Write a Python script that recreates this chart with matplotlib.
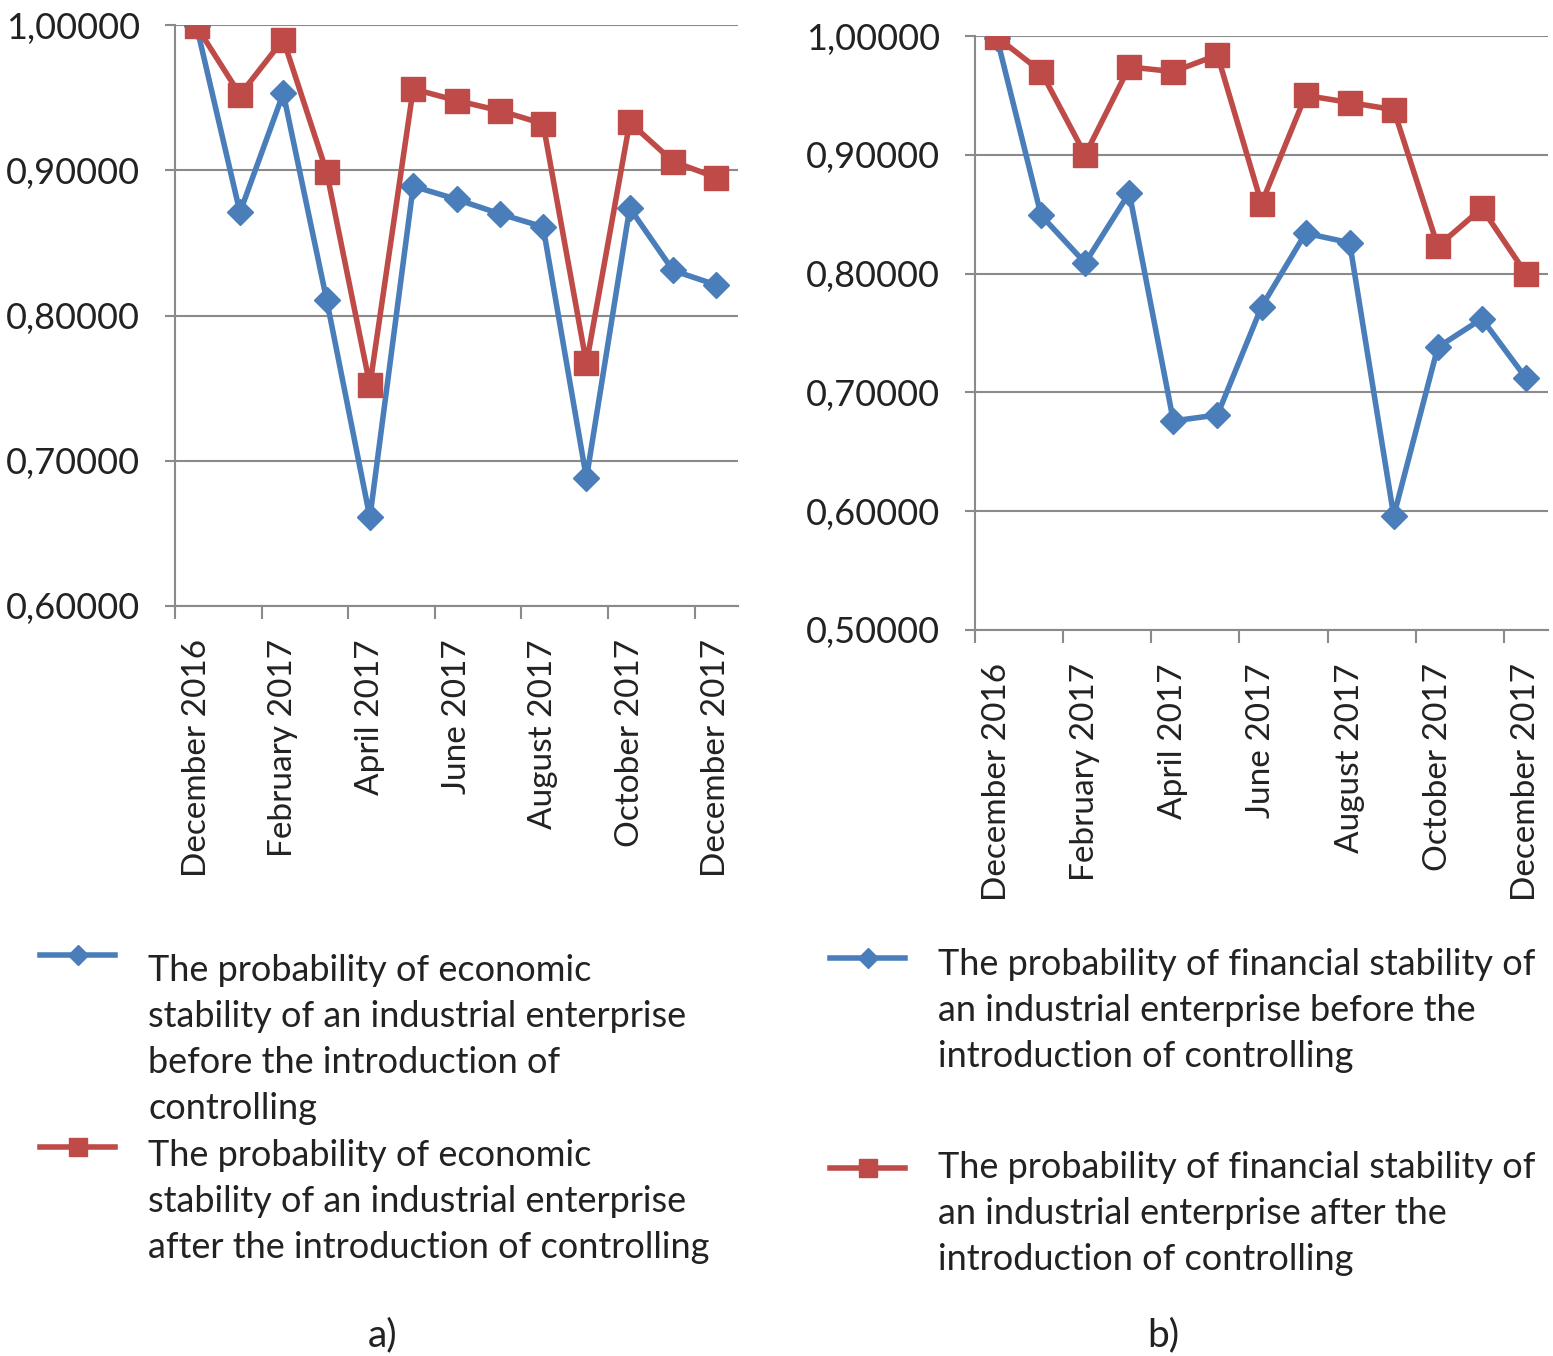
import numpy as np
import matplotlib
matplotlib.use("Agg")
import matplotlib.pyplot as plt
from matplotlib.lines import Line2D
from matplotlib.ticker import FuncFormatter

plt.rcParams['font.family'] = ['Lato', 'DejaVu Sans']

months = ["December 2016", "January 2017", "February 2017", "March 2017", "April 2017",
          "May 2017", "June 2017", "July 2017", "August 2017", "September 2017",
          "October 2017", "November 2017", "December 2017"]

# panel a) economic stability
econ_before = [0.999, 0.871, 0.953, 0.811, 0.661, 0.889, 0.880, 0.870, 0.861, 0.688, 0.874, 0.831, 0.821]
econ_after = [0.999, 0.952, 0.990, 0.899, 0.752, 0.956, 0.948, 0.941, 0.932, 0.767, 0.933, 0.906, 0.895]

# panel b) financial stability
fin_before = [0.998, 0.849, 0.809, 0.868, 0.676, 0.681, 0.772, 0.834, 0.826, 0.596, 0.738, 0.762, 0.712]
fin_after = [0.999, 0.970, 0.900, 0.974, 0.970, 0.984, 0.859, 0.950, 0.944, 0.938, 0.823, 0.855, 0.800]

labels_a = ["The probability of economic\nstability of an industrial enterprise\nbefore the introduction of\ncontrolling",
            "The probability of economic\nstability of an industrial enterprise\nafter the introduction of controlling"]
labels_b = ["The probability of financial stability of\nan industrial enterprise before the\nintroduction of controlling",
            "The probability of financial stability of\nan industrial enterprise after the\nintroduction of controlling"]

BLUE = "#4a7ebb"
RED = "#be4b48"
GRID = "#8a8a8a"
TXT = "#222222"

W, H = 1553, 1356
fig = plt.figure(figsize=(W / 100, H / 100), dpi=100)


def px_axes(l, t, r, b):
    return fig.add_axes([l / W, 1 - b / H, (r - l) / W, (b - t) / H])


def draw_panel(ax, before, after, ymin):
    x = np.arange(len(months))
    ax.plot(x, before, color=BLUE, lw=4, marker="D", ms=13, zorder=3)
    ax.plot(x, after, color=RED, lw=4, marker="s", ms=17, zorder=3)
    ax.set_xlim(-0.5, len(months) - 0.5)
    ax.set_ylim(ymin, 1.0)
    ax.set_yticks(np.arange(ymin, 1.0001, 0.1))
    ax.yaxis.set_major_formatter(FuncFormatter(lambda v, p: f"{v:.5f}".replace(".", ",")))
    ax.grid(axis="y", color=GRID, lw=1.5)
    ax.set_axisbelow(True)
    for s in ["top", "right"]:
        ax.spines[s].set_visible(False)
    for s in ["left", "bottom"]:
        ax.spines[s].set_color(GRID)
        ax.spines[s].set_linewidth(1.5)
    ax.set_xticks(x[::2], [months[i] for i in x[::2]], rotation=90)
    ax.set_xticks(np.arange(-0.5, len(months) - 1, 2), minor=True)
    ax.tick_params(axis="x", which="major", length=0, pad=24, labelsize=24, labelcolor=TXT)
    ax.tick_params(axis="x", which="minor", length=9, width=1.5, color=GRID)
    ax.tick_params(axis="y", length=7, width=1.5, color=GRID, pad=18, labelsize=26, labelcolor=TXT)


def draw_legend(hx, entries):
    # entries: (label, color, marker, ms, handle_y, text_top)
    for lab, col, mk, ms, hy, tt in entries:
        fig.add_artist(Line2D([hx / W, (hx + 75) / W], [1 - hy / H, 1 - hy / H],
                              transform=fig.transFigure, color=col, lw=4))
        fig.add_artist(Line2D([(hx + 37.5) / W], [1 - hy / H], transform=fig.transFigure,
                              color=col, marker=mk, ms=ms, lw=0))
        fig.text((hx + 108) / W, 1 - tt / H, lab, fontsize=26, color=TXT, va="top",
                 ha="left", linespacing=1.48)


ax_a = px_axes(175, 25, 738, 606)
draw_panel(ax_a, econ_before, econ_after, 0.6)
ax_b = px_axes(975, 36, 1548, 630)
draw_panel(ax_b, fin_before, fin_after, 0.5)

draw_legend(40, [(labels_a[0], BLUE, "D", 10, 955, 954),
                 (labels_a[1], RED, "s", 13, 1147, 1139)])
draw_legend(830, [(labels_b[0], BLUE, "D", 10, 958, 948),
                  (labels_b[1], RED, "s", 13, 1168, 1151)])

fig.text(383 / W, 1 - 1335 / H, "a)", fontsize=28, color=TXT, ha="center", va="center")
fig.text(1163 / W, 1 - 1335 / H, "b)", fontsize=28, color=TXT, ha="center", va="center")

fig.savefig("out.png", dpi=100, facecolor="white")
